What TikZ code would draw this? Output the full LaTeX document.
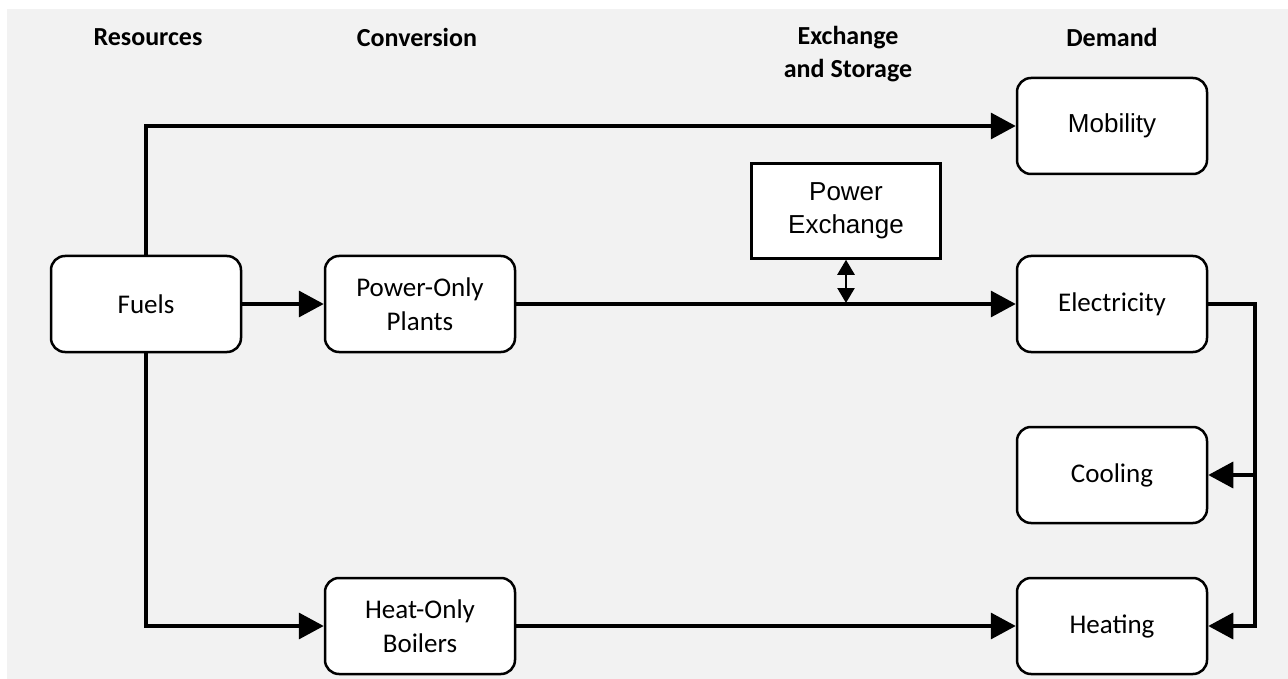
\documentclass[tikz,border=0pt]{standalone}
\usepackage{fontspec}
\setmainfont{Carlito}
\newfontfamily\arialFont{Liberation Sans}
\usetikzlibrary{arrows.meta}
\newcommand{\boxFont}[0]{\fontsize{27}{34}\selectfont}

\begin{document}
\begin{tikzpicture}[x=1pt, y=-1pt]
  \tikzset{
    every node/.style={align=center, font=\boxFont},
    unitBox/.style={draw, fill=white, line width=2.5pt, rounded corners=14pt,
      minimum width=190pt, minimum height=96pt, inner sep=0pt},
    exchangeBox/.style={draw, fill=white, line width=2.5pt,
      minimum width=189pt, minimum height=95pt, inner sep=0pt},
    header/.style={font=\fontsize{26}{33}\selectfont\bfseries},
    flow/.style={line width=3.5pt, -{Triangle[length=25pt,width=26pt]}},
    twoWay/.style={line width=2.5pt,
      {Triangle[length=15pt,width=17pt]}-{Triangle[length=15pt,width=17pt]}}
  }
  \useasboundingbox (0,0) rectangle (1288,679);
  \fill[gray!10] (7,9) rectangle (1288,679);

  % column headers
  \node[header] (hResources) at (148,37) {Resources};
  \node[header] (hConversion) at (417,37) {Conversion};
  \node[header] (hExchange) at (848,54) {Exchange\\and Storage};
  \node[header] (hDemand) at (1112,37) {Demand};

  % boxes
  \node[unitBox] (fuels) at (146,304) {Fuels};
  \node[unitBox] (powerPlants) at (420,304) {Power-Only\\Plants};
  \node[unitBox] (heatBoilers) at (420,626) {Heat-Only\\Boilers};
  \node[exchangeBox, font=\arialFont\fontsize{26}{33}\selectfont] (powerExchange) at (846,211) {Power\\Exchange};
  \node[unitBox, font=\arialFont\fontsize{26}{33}\selectfont] (mobility) at (1112,126) {Mobility};
  \node[unitBox] (electricity) at (1112,304) {Electricity};
  \node[unitBox] (cooling) at (1112,475) {Cooling};
  \node[unitBox] (heating) at (1112,626) {Heating};

  \coordinate (busBottom) at (1255,626);
  \coordinate (tap) at (846,303);

  % connectors
  \draw[flow] (fuels) -- (powerPlants);
  \draw[flow] (fuels.north) |- (mobility);
  \draw[flow] (fuels.south) |- (heatBoilers);
  \draw[flow] (powerPlants) -- (electricity);
  \draw[flow] (heatBoilers) -- (heating);
  \draw[flow, line join=miter] (electricity.east) -| (busBottom) -- (heating.east);
  \draw[flow] (cooling.east -| busBottom) -- (cooling.east);
  \draw[twoWay] (powerExchange.south) -- (tap);
\end{tikzpicture}
\end{document}
